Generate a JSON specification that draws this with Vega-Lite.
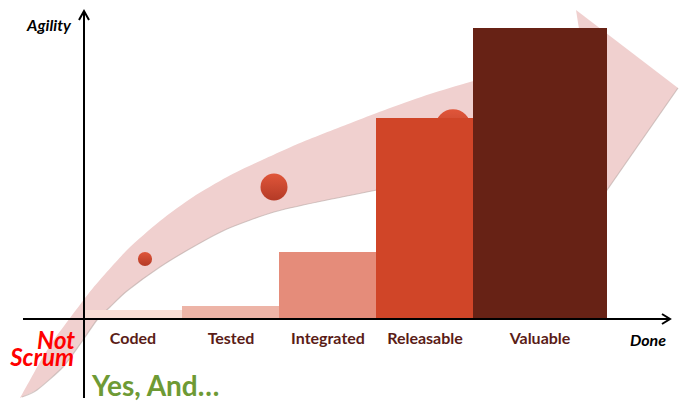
{
  "$schema": "https://vega.github.io/schema/vega-lite/v6.json",
  "width": 682,
  "height": 408,
  "padding": 0,
  "autosize": "none",
  "background": "white",
  "config": {"view": {"stroke": null}},
  "datasets": {
    "band": [
      {"i": 1, "x": -64, "y": -79},
      {"i": 2, "x": -54, "y": -61},
      {"i": 3, "x": -44, "y": -43},
      {"i": 4, "x": -31, "y": -22},
      {"i": 5, "x": -14, "y": 1},
      {"i": 6, "x": 9, "y": 31},
      {"i": 7, "x": 43, "y": 69},
      {"i": 8, "x": 76, "y": 98},
      {"i": 9, "x": 109, "y": 122},
      {"i": 10, "x": 143, "y": 142},
      {"i": 11, "x": 176, "y": 158},
      {"i": 12, "x": 216, "y": 176},
      {"i": 13, "x": 259, "y": 193},
      {"i": 14, "x": 306, "y": 211},
      {"i": 15, "x": 346, "y": 225},
      {"i": 16, "x": 386, "y": 237},
      {"i": 17, "x": 436, "y": 251},
      {"i": 18, "x": 494, "y": 266},
      {"i": 19, "x": 505, "y": 220},
      {"i": 20, "x": 514, "y": 177},
      {"i": 21, "x": 456, "y": 165},
      {"i": 22, "x": 396, "y": 153},
      {"i": 23, "x": 346, "y": 141},
      {"i": 24, "x": 293, "y": 129},
      {"i": 25, "x": 243, "y": 119},
      {"i": 26, "x": 190, "y": 107},
      {"i": 27, "x": 143, "y": 90},
      {"i": 28, "x": 109, "y": 72},
      {"i": 29, "x": 76, "y": 52},
      {"i": 30, "x": 43, "y": 28},
      {"i": 31, "x": 26, "y": 12},
      {"i": 32, "x": 13, "y": -1},
      {"i": 33, "x": -1, "y": -21},
      {"i": 34, "x": -21, "y": -48},
      {"i": 35, "x": -47, "y": -71}
    ],
    "head": [
      {"i": 1, "x": 492, "y": 309},
      {"i": 2, "x": 594, "y": 231},
      {"i": 3, "x": 521, "y": 126}
    ],
    "shadow": [
      {"seg": "body", "i": 1, "x": -62, "y": -78},
      {"seg": "body", "i": 2, "x": -47, "y": -71},
      {"seg": "body", "i": 3, "x": -21, "y": -48},
      {"seg": "body", "i": 4, "x": -1, "y": -21},
      {"seg": "body", "i": 5, "x": 13, "y": -1},
      {"seg": "body", "i": 6, "x": 26, "y": 12},
      {"seg": "body", "i": 7, "x": 43, "y": 28},
      {"seg": "body", "i": 8, "x": 76, "y": 52},
      {"seg": "body", "i": 9, "x": 109, "y": 72},
      {"seg": "body", "i": 10, "x": 143, "y": 90},
      {"seg": "body", "i": 11, "x": 190, "y": 107},
      {"seg": "body", "i": 12, "x": 243, "y": 119},
      {"seg": "body", "i": 13, "x": 293, "y": 129},
      {"seg": "head", "i": 1, "x": 594, "y": 231},
      {"seg": "head", "i": 2, "x": 521, "y": 126}
    ],
    "dots": [
      {"level": 1, "x": 61, "y": 60},
      {"level": 2, "x": 190, "y": 132},
      {"level": 3, "x": 369, "y": 192}
    ],
    "stages": [
      {"stage": "Coded", "start": 0, "end": 98, "mid": 49, "agility": 9},
      {"stage": "Tested", "start": 98, "end": 195, "mid": 147, "agility": 13},
      {"stage": "Integrated", "start": 195, "end": 292, "mid": 244, "agility": 67},
      {"stage": "Releasable", "start": 292, "end": 389, "mid": 341, "agility": 201},
      {"stage": "Valuable", "start": 389, "end": 523, "mid": 456, "agility": 291}
    ],
    "axes": [
      {"seg": "v", "i": 1, "x": 0, "y": -79},
      {"seg": "v", "i": 2, "x": 0, "y": 307},
      {"seg": "vh", "i": 1, "x": -5, "y": 299},
      {"seg": "vh", "i": 2, "x": 0, "y": 308},
      {"seg": "vh", "i": 3, "x": 5, "y": 299},
      {"seg": "h", "i": 1, "x": -61, "y": 0},
      {"seg": "h", "i": 2, "x": 585, "y": 0},
      {"seg": "hh", "i": 1, "x": 578, "y": 5},
      {"seg": "hh", "i": 2, "x": 586, "y": 0},
      {"seg": "hh", "i": 3, "x": 578, "y": -5}
    ],
    "axisTitles": [
      {"text": "Agility", "x": -35, "y": 293},
      {"text": "Done", "x": 564, "y": -22}
    ],
    "notScrum": [
      {"text": "Not", "x": -9, "y": -23},
      {"text": "Scrum", "x": -10, "y": -40}
    ],
    "yesAnd": [
      {"text": "Yes, And…", "x": 8, "y": -69}
    ]
  },
  "resolve": {"scale": {"color": "independent", "size": "independent", "opacity": "independent"}},
  "layer": [
    {
      "data": {"name": "band"},
      "mark": {"type": "line", "filled": true, "color": "#f0d0cf", "interpolate": "cardinal", "tension": 0.3},
      "encoding": {
        "x": {"field": "x", "type": "quantitative", "scale": {"domain": [-84, 598]}, "axis": null},
        "y": {"field": "y", "type": "quantitative", "scale": {"domain": [-89, 319]}, "axis": null},
        "order": {"field": "i", "type": "quantitative"}
      }
    },
    {
      "data": {"name": "head"},
      "mark": {"type": "line", "filled": true, "color": "#f0d0cf", "interpolate": "linear"},
      "encoding": {
        "x": {"field": "x", "type": "quantitative", "scale": {"domain": [-84, 598]}, "axis": null},
        "y": {"field": "y", "type": "quantitative", "scale": {"domain": [-89, 319]}, "axis": null},
        "order": {"field": "i", "type": "quantitative"}
      }
    },
    {
      "data": {"name": "shadow"},
      "mark": {"type": "line", "color": "#b8a6a4", "strokeWidth": 1.2, "opacity": 0.6, "interpolate": "cardinal", "tension": 0.3},
      "encoding": {
        "x": {"field": "x", "type": "quantitative", "scale": {"domain": [-84, 598]}, "axis": null},
        "y": {"field": "y", "type": "quantitative", "scale": {"domain": [-89, 319]}, "axis": null},
        "detail": {"field": "seg", "type": "nominal"},
        "order": {"field": "i", "type": "quantitative"}
      }
    },
    {
      "data": {"name": "dots"},
      "mark": {"type": "circle", "color": {"gradient": "linear", "x1": 0, "y1": 0, "x2": 0, "y2": 1, "stops": [{"offset": 0, "color": "#e0563a"}, {"offset": 1, "color": "#b43a26"}]}},
      "encoding": {
        "x": {"field": "x", "type": "quantitative", "scale": {"domain": [-84, 598]}, "axis": null},
        "y": {"field": "y", "type": "quantitative", "scale": {"domain": [-89, 319]}, "axis": null},
        "size": {"field": "level", "type": "quantitative", "scale": {"domain": [1, 3], "range": [201, 1257]}, "legend": null},
        "opacity": {"field": "level", "type": "ordinal", "scale": {"domain": [1, 2, 3], "range": [1, 1, 0.7]}, "legend": null}
      }
    },
    {
      "data": {"name": "stages"},
      "mark": {"type": "rect"},
      "encoding": {
        "x": {"field": "start", "type": "quantitative", "scale": {"domain": [-84, 598]}, "axis": null},
        "x2": {"field": "end"},
        "y": {"field": "agility", "type": "quantitative", "scale": {"domain": [-89, 319]}, "axis": null},
        "y2": {"datum": 0},
        "color": {"field": "stage", "type": "nominal", "scale": {"domain": ["Coded", "Tested", "Integrated", "Releasable", "Valuable"], "range": ["#f8ddd6", "#edb4a7", "#e58c7a", "#d04528", "#672215"]}, "legend": null}
      }
    },
    {
      "data": {"name": "axes"},
      "mark": {"type": "line", "color": "#000000", "strokeWidth": 2},
      "encoding": {
        "x": {"field": "x", "type": "quantitative", "scale": {"domain": [-84, 598]}, "axis": null},
        "y": {"field": "y", "type": "quantitative", "scale": {"domain": [-89, 319]}, "axis": null},
        "detail": {"field": "seg", "type": "nominal"},
        "order": {"field": "i", "type": "quantitative"}
      }
    },
    {
      "data": {"name": "stages"},
      "mark": {"type": "text", "font": "Lato", "fontWeight": "bold", "fontSize": 16, "color": "#5a1c17", "baseline": "middle", "align": "center"},
      "encoding": {
        "x": {"field": "mid", "type": "quantitative", "scale": {"domain": [-84, 598]}, "axis": null},
        "y": {"datum": -20, "type": "quantitative", "scale": {"domain": [-89, 319]}, "axis": null},
        "text": {"field": "stage"}
      }
    },
    {
      "data": {"name": "axisTitles"},
      "mark": {"type": "text", "font": "Lato", "fontWeight": "bold", "fontStyle": "italic", "fontSize": 16, "color": "#000000", "baseline": "middle", "align": "center"},
      "encoding": {
        "x": {"field": "x", "type": "quantitative", "scale": {"domain": [-84, 598]}, "axis": null},
        "y": {"field": "y", "type": "quantitative", "scale": {"domain": [-89, 319]}, "axis": null},
        "text": {"field": "text"}
      }
    },
    {
      "data": {"name": "notScrum"},
      "mark": {"type": "text", "font": "Lato", "fontWeight": "bold", "fontStyle": "italic", "fontSize": 24, "color": "#ff0000", "baseline": "middle", "align": "right"},
      "encoding": {
        "x": {"field": "x", "type": "quantitative", "scale": {"domain": [-84, 598]}, "axis": null},
        "y": {"field": "y", "type": "quantitative", "scale": {"domain": [-89, 319]}, "axis": null},
        "text": {"field": "text"}
      }
    },
    {
      "data": {"name": "yesAnd"},
      "mark": {"type": "text", "font": "Lato", "fontWeight": "bold", "fontSize": 28, "color": "#6e9a35", "baseline": "middle", "align": "left"},
      "encoding": {
        "x": {"field": "x", "type": "quantitative", "scale": {"domain": [-84, 598]}, "axis": null},
        "y": {"field": "y", "type": "quantitative", "scale": {"domain": [-89, 319]}, "axis": null},
        "text": {"field": "text"}
      }
    }
  ]
}
